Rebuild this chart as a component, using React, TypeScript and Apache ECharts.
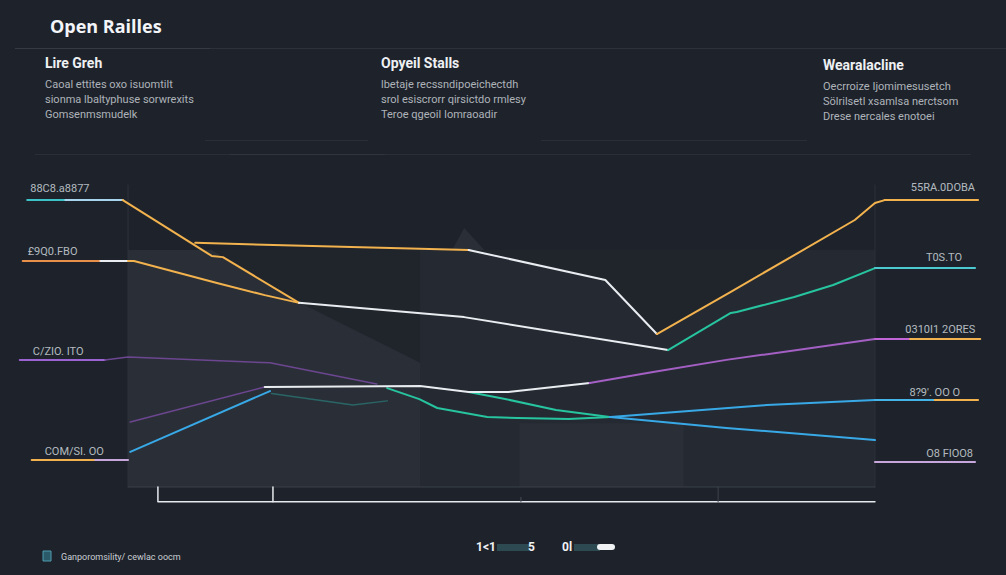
import React, { useEffect, useRef } from 'react';
import * as echarts from 'echarts';

const BG = '#1e232b';
const ORANGE = '#f2b24e';
const TEAL = '#27c4a0';
const BLUE = '#38a9e6';
const PURPLE_DIM = '#6c4690';
const PURPLE = '#a45fc4';
const WHITE = '#e9edf1';
const CYAN = '#3cc3c8';
const LIGHTBLUE = '#a9d6ee';
const LILAC = '#c7a6dc';

// ---- text content ----
const mainTitle = 'Open Railles';
const blockTitles = ['Lire Greh', 'Opyeil Stalls', 'Wearalacline'];
const blockLines = [
  ['Caoal ettites oxo isuomtilt', 'sionma lbaltyphuse sorwrexits', 'Gomsenmsmudelk'],
  ['lbetaje recssndipoeichectdh', 'srol esiscrorr qirsictdo rmlesy', 'Teroe qgeoil Iomraoadir'],
  ['Oecrroize Ijomimesusetch', 'Sölrilsetl xsamlsa nerctsom', 'Drese nercales enotoei'],
];
const leftLabels = ['88C8.a8877', '£9Q0.FBO', 'C/ZIO. ITO', 'COM/SI. OO'];
const rightLabels = ['55RA.0DOBA', 'T0S.TO', '0310I1 2ORES', "8?9'. OO O", 'O8 FIOO8'];
const footerText = 'Ganporomsility/ cewlac oocm';
const legendTexts = ['1<1', '5', '0l'];

// ---- series values (x: 0..100 across the plot, y: 0..100) ----
const stubA1 = [[-13.5, 96.6], [-8.4, 96.6]];
const stubA2 = [[-8.4, 96.6], [-0.7, 96.6]];
const orangeA = [[-0.7, 96.6], [11.2, 77.8], [12.7, 77.4], [22.9, 62.0]];
const stubB1 = [[-14.1, 76.1], [-3.7, 76.1]];
const stubB2 = [[-3.7, 76.1], [0, 76.1]];
const orangeB = [[0, 76.1], [0.8, 76.1], [11.9, 68.7], [18.3, 64.6], [22.9, 62.0]];
const whiteA = [[22.9, 62.0], [45.0, 57.2], [72.3, 46.1]];
const tealA = [[72.3, 46.1], [80.7, 58.6], [81.5, 58.9], [89.2, 64.0], [94.4, 68.0], [100, 73.7]];
const stubTealR = [[100, 73.7], [113.4, 73.7]];
const orangeC = [[9.0, 82.2], [45.6, 79.8]];
const whiteB = [[45.6, 79.8], [63.9, 69.7], [70.8, 51.5]];
const orangeD = [[70.8, 51.5], [80.7, 65.7], [89.2, 78.1], [97.3, 89.9], [100, 95.6], [101.3, 96.6]];
const stubOrangeR = [[101.3, 96.6], [113.8, 96.6]];
const stubP1 = [[-14.5, 42.8], [-3.1, 42.8]];
const purpleA = [[-3.1, 42.8], [0, 43.8], [19.0, 41.8], [33.3, 34.7]];
const purpleB = [[0.3, 21.9], [18.3, 33.7]];
const whiteC = [[18.3, 33.7], [39.1, 34.0], [45.6, 32.0], [50.9, 32.0], [61.8, 35.0]];
const purpleC = [[61.8, 35.0], [70.3, 38.7], [80.1, 42.8], [100, 49.8]];
const stubPR1 = [[100, 49.8], [104.7, 49.8]];
const stubPR2 = [[104.7, 49.8], [114.1, 49.8]];
const blueA = [[0.3, 11.8], [19.0, 32.3]];
const tealFaint = [[19.2, 31.5], [30.1, 27.6], [34.7, 29.0]];
const tealB = [[34.7, 33.3], [39.0, 29.6], [41.4, 26.6], [48.1, 23.6], [52.2, 23.2], [59.0, 22.9], [64.6, 23.6]];
const blueB = [[64.6, 23.6], [85.5, 27.6], [100, 29.3]];
const stubBR1 = [[100, 29.3], [108.0, 29.3]];
const stubBR2 = [[108.0, 29.3], [113.8, 29.3]];
const tealC = [[45.6, 32.0], [49.8, 30.0], [57.3, 25.9], [64.5, 23.6]];
const blueC = [[64.5, 23.6], [80.1, 19.9], [100, 15.8]];
const stubLR = [[100, 8.4], [113.4, 8.4]];
const stubD1 = [[-12.9, 9.1], [-4.4, 9.1]];
const stubD2 = [[-4.4, 9.1], [0, 9.1]];

// axis bracket under the plot
const bracketMain = [[4.0, 0], [4.0, -5], [100, -5]];
const bracketTick = [[19.4, 0], [19.4, -5]];
const faintTicks = [[[52.6, -5], [52.6, -3.5]], [[79.0, -5], [79.0, 0]]];
const panelBorder = [[0, 0], [100, 0]];
const frameLeft = [[0, 101.7], [0, 0]];
const frameRight = [[100, 101.7], [100, 0]];

// background shading polygons
const shadePolys = [
  [[0, 0], [100, 0], [100, 79.8], [0, 79.8]],
  [[0, 0], [39.1, 0], [39.1, 79.8], [0, 79.8]],
  [[52.4, 0], [74.4, 0], [74.4, 21.5], [52.4, 21.5]],
  [[11.2, 79.8], [39.1, 79.8], [39.1, 41.8], [23.0, 62.0], [12.7, 77.4]],
  [[45.6, 79.8], [63.9, 69.7], [70.8, 51.5], [80.7, 65.7], [89.2, 78.1], [90.3, 79.8]],
  [[43.4, 79.8], [45.0, 87.2], [47.7, 79.8]],
];
const shadeColors = ['#252a32', '#2a2f37', '#2a2f37', '#20252c', '#20252c', '#2a2f37'];

function line(data: number[][], color: string, width = 2, opacity = 1, z = 3) {
  return {
    type: 'line',
    data,
    symbol: 'none',
    silent: true,
    clip: false,
    z,
    lineStyle: { color, width, opacity, cap: 'round', join: 'round' },
  };
}

export default function App() {
  const ref = useRef<HTMLDivElement>(null);

  useEffect(() => {
    document.body.style.margin = '0';
    document.body.style.background = BG;
    const chart = echarts.init(ref.current!, null, { renderer: 'svg' });

    const leftAnchors = [stubA1[0], stubB1[0], stubP1[0], stubD1[0]];
    const leftDx = [3, 5, 13, 13];
    const leftDist = [6, 4, 3, 3];
    const rightAnchors = [stubOrangeR[1], stubTealR[1], stubPR2[1], stubBR2[1], stubLR[1]];
    const rightDx = [-3, -13, -5, -18, -2];
    const rightDist = [7, 5, 4, 2, 3];

    const labelStyle = { color: '#dde1e6', fontSize: 11, fontFamily: 'Roboto' };

    const labelData = [
      ...leftLabels.map((t, i) => ({
        value: leftAnchors[i],
        label: { show: true, formatter: t, position: 'top', align: 'left', offset: [leftDx[i], 0], distance: leftDist[i], ...labelStyle },
      })),
      ...rightLabels.map((t, i) => ({
        value: rightAnchors[i],
        label: { show: true, formatter: t, position: 'top', align: 'right', offset: [rightDx[i], 0], distance: rightDist[i], ...labelStyle },
      })),
    ];

    const blockLeft = [45, 381, 823];
    const blockTop = [56, 56, 58];

    const titles: any[] = [
      {
        text: mainTitle, left: 50, top: 17, padding: 0,
        textStyle: { color: '#f3f5f8', fontSize: 18, fontWeight: 'bold', fontFamily: 'Open Sans' },
      },
      ...blockTitles.map((t, i) => ({
        text: t,
        subtext: blockLines[i].join('\n'),
        left: blockLeft[i], top: blockTop[i], padding: 0, itemGap: 7,
        textStyle: { color: '#eef0f3', fontSize: 14, fontWeight: 'bold', fontFamily: 'Roboto' },
        subtextStyle: { color: '#aeb3ba', fontSize: 11, lineHeight: 15, fontFamily: 'Roboto' },
      })),
    ];

    const txt = (x: number, y: number, text: string, align = 'left') => ({
      type: 'text', x, y, silent: true,
      style: { text, fill: '#f0f2f4', fontSize: 12, fontWeight: 'bold', fontFamily: 'Roboto', verticalAlign: 'middle', align },
    });

    const option: any = {
      animation: false,
      backgroundColor: BG,
      title: titles,
      grid: { left: 16, right: 19, top: 190, bottom: 58.3 },
      xAxis: { type: 'value', min: -15, max: 115, show: false },
      yAxis: { type: 'value', min: -10, max: 100, show: false },
      graphic: [
        { type: 'line', shape: { x1: 15, y1: 48.5, x2: 1006, y2: 48.5 }, style: { stroke: '#2c313a', lineWidth: 1 }, silent: true },
        { type: 'line', shape: { x1: 15, y1: 48.5, x2: 210, y2: 48.5 }, style: { stroke: '#353a43', lineWidth: 1 }, silent: true },
        { type: 'line', shape: { x1: 205, y1: 140.5, x2: 368, y2: 140.5 }, style: { stroke: '#2a2f37', lineWidth: 1 }, silent: true },
        { type: 'line', shape: { x1: 541, y1: 140.5, x2: 807, y2: 140.5 }, style: { stroke: '#2a2f37', lineWidth: 1 }, silent: true },
        { type: 'line', shape: { x1: 35, y1: 154.5, x2: 971, y2: 154.5 }, style: { stroke: '#2a2f37', lineWidth: 1 }, silent: true },
        { type: 'line', shape: { x1: 230, y1: 154.5, x2: 385, y2: 154.5 }, style: { stroke: '#30353d', lineWidth: 1 }, silent: true },
        // footer
        { type: 'rect', shape: { x: 43, y: 551, width: 8, height: 10 }, style: { fill: '#2b5a68', stroke: '#4f9db0', lineWidth: 1 }, silent: true },
        { type: 'text', x: 61, y: 557, style: { text: footerText, fill: '#c9cdd3', fontSize: 9, fontFamily: 'Roboto', verticalAlign: 'middle' }, silent: true },
        // bottom legend-like marks
        { type: 'rect', shape: { x: 497, y: 544, width: 32, height: 7 }, style: { fill: '#2d4a52' }, silent: true },
        { type: 'rect', shape: { x: 574, y: 544, width: 26, height: 7 }, style: { fill: '#2d4a52' }, silent: true },
        { type: 'rect', shape: { x: 597, y: 544, width: 18, height: 6, r: 3 }, style: { fill: '#f0f2f4' }, silent: true },
        txt(496, 547, legendTexts[0], 'right'),
        txt(528, 547, legendTexts[1]),
        txt(562, 547, legendTexts[2]),
      ],
      series: [
        {
          type: 'custom',
          silent: true,
          clip: false,
          z: 1,
          data: shadePolys.map((_, i) => [i]),
          renderItem: (params: any, api: any) => {
            const pts = shadePolys[params.dataIndex].map((p) => api.coord(p));
            return { type: 'polygon', shape: { points: pts }, style: { fill: shadeColors[params.dataIndex] } };
          },
        },
        line(frameLeft, '#2d323a', 1, 1, 2),
        line(frameRight, '#2d323a', 1, 1, 2),
        line(panelBorder, '#3b4049', 1, 1, 2),
        line(bracketMain, '#e6e9ed', 1.5),
        line(bracketTick, '#e6e9ed', 1.5),
        line(faintTicks[0], '#4a4f57', 1),
        line(faintTicks[1], '#3f444c', 1),
        line(stubA1, CYAN),
        line(stubA2, LIGHTBLUE),
        line(orangeA, ORANGE),
        line(stubB1, '#e8904a'),
        line(stubB2, WHITE),
        line(orangeB, ORANGE),
        line(orangeC, ORANGE),
        line(whiteA, WHITE),
        line(tealA, TEAL),
        line(stubTealR, '#4cc9d0'),
        line(whiteB, WHITE),
        line(orangeD, ORANGE),
        line(stubOrangeR, ORANGE),
        line(stubP1, '#9b63d2'),
        line(purpleA, PURPLE_DIM, 1.5),
        line(purpleB, PURPLE_DIM, 1.5),
        line(blueA, BLUE),
        line(tealFaint, '#2a8a86', 1.5, 0.6),
        line(tealB, TEAL),
        line(tealC, TEAL),
        line(blueB, BLUE),
        line(blueC, BLUE),
        line(whiteC, WHITE),
        line(purpleC, PURPLE),
        line(stubPR1, '#c064d8'),
        line(stubPR2, ORANGE),
        line(stubBR1, '#45b4e8'),
        line(stubBR2, ORANGE),
        line(stubLR, LILAC),
        line(stubD1, ORANGE),
        line(stubD2, LILAC),
        {
          type: 'scatter',
          symbolSize: 0,
          silent: true,
          z: 5,
          data: labelData,
        },
      ],
    };

    chart.setOption(option);
    return () => chart.dispose();
  }, []);

  return <div ref={ref} style={{ width: 1006, height: 575, background: BG }} />;
}
